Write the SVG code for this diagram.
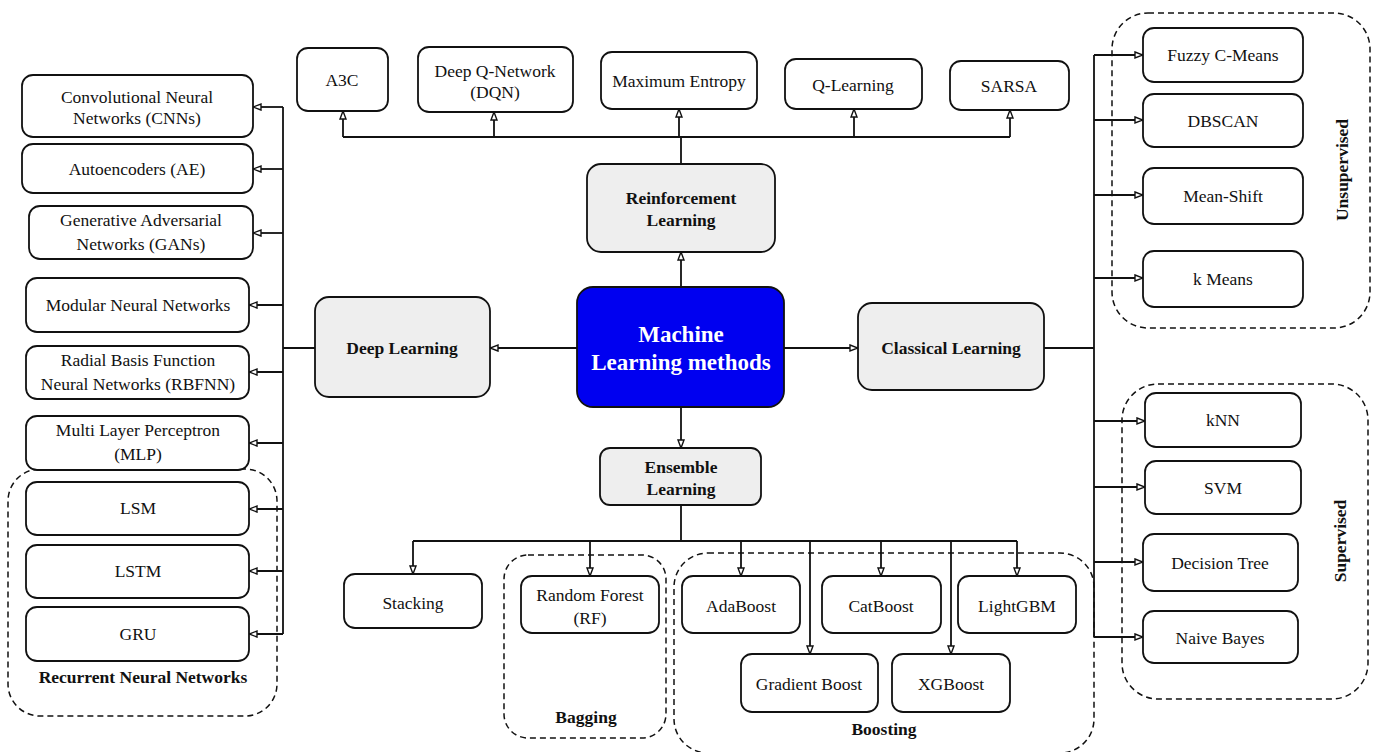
<svg xmlns="http://www.w3.org/2000/svg" width="1375" height="752" viewBox="0 0 1375 752">
<style>
.n{fill:#fff;stroke:#111;stroke-width:1.8}
.g{fill:#eeeeee;stroke:#111;stroke-width:1.8}
.c{fill:#0000f0;stroke:#111;stroke-width:1.8}
.d{fill:none;stroke:#111;stroke-width:1.5;stroke-dasharray:6 4}
.t{font-family:"Liberation Serif","Times New Roman",serif;font-size:17.5px;fill:#111;text-anchor:middle}
.b{font-family:"Liberation Serif","Times New Roman",serif;font-size:17.5px;font-weight:bold;fill:#111;text-anchor:middle}
.w{font-family:"Liberation Serif","Times New Roman",serif;font-size:23px;font-weight:bold;fill:#fff;text-anchor:middle}
.l{fill:none;stroke:#111;stroke-width:1.8}
.a{fill:none;stroke:#111;stroke-width:1.8;marker-end:url(#arr)}
</style>
<defs>
<marker id="arr" markerUnits="userSpaceOnUse" markerWidth="10" markerHeight="9" refX="9" refY="4" orient="auto">
<path d="M1,1 L9,4 L1,7 z" fill="#fff" stroke="#111" stroke-width="1.4"/>
</marker>
</defs>
<rect width="1375" height="752" fill="#fff"/>

<g id="groups">
<rect class="d" x="8" y="469" width="269" height="247" rx="32"/>
<text class="b" x="143" y="683">Recurrent Neural Networks</text>
<rect class="d" x="1112" y="13" width="258" height="315" rx="36"/>
<text class="b" transform="translate(1348,170) rotate(-90)">Unsupervised</text>
<rect class="d" x="1122" y="384" width="246" height="315" rx="36"/>
<text class="b" transform="translate(1346,541) rotate(-90)">Supervised</text>
<rect class="d" x="504" y="555" width="162" height="183" rx="24"/>
<text class="b" x="586" y="723">Bagging</text>
<rect class="d" x="674" y="553" width="420" height="200" rx="34"/>
<text class="b" x="884" y="735">Boosting</text>
</g>

<g id="connectors">
<path class="a" d="M577,348 H490"/>
<path class="a" d="M784,348 H858"/>
<path class="a" d="M681,287 V252"/>
<path class="a" d="M681,407 V448"/>
<path class="l" d="M681,164 V137 M343,137 H1010"/>
<path class="a" d="M343,137 V111"/>
<path class="a" d="M494,137 V112"/>
<path class="a" d="M679,137 V109"/>
<path class="a" d="M854,137 V109"/>
<path class="a" d="M1010,137 V110"/>
<path class="l" d="M315,348 H283 M283,107 V634"/>
<path class="a" d="M283,107 H253"/>
<path class="a" d="M283,169 H253"/>
<path class="a" d="M283,233 H253"/>
<path class="a" d="M283,305 H249"/>
<path class="a" d="M283,372 H249"/>
<path class="a" d="M283,443 H249"/>
<path class="a" d="M283,509 H249"/>
<path class="a" d="M283,571 H249"/>
<path class="a" d="M283,634 H249"/>
<path class="l" d="M1044,348 H1094 M1094,55 V637"/>
<path class="a" d="M1094,55 H1143"/>
<path class="a" d="M1094,120 H1143"/>
<path class="a" d="M1094,195 H1143"/>
<path class="a" d="M1094,278 H1143"/>
<path class="a" d="M1094,421 H1145"/>
<path class="a" d="M1094,487 H1145"/>
<path class="a" d="M1094,562 H1143"/>
<path class="a" d="M1094,637 H1143"/>
<path class="l" d="M681,505 V541 M413,541 H1017"/>
<path class="a" d="M413,541 V574"/>
<path class="a" d="M590,541 V576"/>
<path class="a" d="M741,541 V576"/>
<path class="a" d="M810,541 V654"/>
<path class="a" d="M881,541 V576"/>
<path class="a" d="M951,541 V654"/>
<path class="a" d="M1017,541 V576"/>
</g>

<g id="ml"><rect class="c" x="577" y="287" width="207" height="120" rx="16"/>
<text class="w" x="681" y="342">Machine</text><text class="w" x="681" y="370">Learning methods</text></g>
<g id="deep"><rect class="g" x="315" y="297" width="175" height="100" rx="14"/><text class="b" x="402" y="354">Deep Learning</text></g>
<g id="classical"><rect class="g" x="858" y="303" width="186" height="87" rx="14"/><text class="b" x="951" y="354">Classical Learning</text></g>
<g id="reinforcement"><rect class="g" x="587" y="164" width="188" height="88" rx="14"/><text class="b" x="681" y="204">Reinforcement</text><text class="b" x="681" y="226">Learning</text></g>
<g id="ensemble"><rect class="g" x="600" y="448" width="161" height="57" rx="10"/><text class="b" x="681" y="473">Ensemble</text><text class="b" x="681" y="495">Learning</text></g>

<g id="a3c"><rect class="n" x="297" y="48" width="91" height="63" rx="11"/><text class="t" x="342" y="86">A3C</text></g>
<g id="dqn"><rect class="n" x="418" y="47" width="155" height="65" rx="11"/><text class="t" x="495" y="77">Deep Q-Network</text><text class="t" x="495" y="98">(DQN)</text></g>
<g id="maxent"><rect class="n" x="601" y="52" width="156" height="57" rx="11"/><text class="t" x="679" y="87">Maximum Entropy</text></g>
<g id="qlearn"><rect class="n" x="785" y="59" width="137" height="50" rx="11"/><text class="t" x="853" y="91">Q-Learning</text></g>
<g id="sarsa"><rect class="n" x="950" y="61" width="119" height="49" rx="11"/><text class="t" x="1009" y="92">SARSA</text></g>

<g id="cnn"><rect class="n" x="22" y="75" width="231" height="62" rx="11"/><text class="t" x="137" y="103">Convolutional Neural</text><text class="t" x="137" y="124">Networks (CNNs)</text></g>
<g id="ae"><rect class="n" x="22" y="144" width="231" height="49" rx="11"/><text class="t" x="137" y="175">Autoencoders (AE)</text></g>
<g id="gan"><rect class="n" x="29" y="206" width="224" height="53" rx="11"/><text class="t" x="141" y="226">Generative Adversarial</text><text class="t" x="141" y="250">Networks (GANs)</text></g>
<g id="modular"><rect class="n" x="26" y="278" width="223" height="54" rx="11"/><text class="t" x="138" y="311">Modular Neural Networks</text></g>
<g id="rbfnn"><rect class="n" x="26" y="346" width="223" height="53" rx="11"/><text class="t" x="138" y="366">Radial Basis Function</text><text class="t" x="138" y="390">Neural Networks (RBFNN)</text></g>
<g id="mlp"><rect class="n" x="26" y="416" width="223" height="54" rx="11"/><text class="t" x="138" y="436">Multi Layer Perceptron</text><text class="t" x="138" y="460">(MLP)</text></g>
<g id="lsm"><rect class="n" x="26" y="482" width="223" height="53" rx="11"/><text class="t" x="138" y="514">LSM</text></g>
<g id="lstm"><rect class="n" x="26" y="545" width="223" height="53" rx="11"/><text class="t" x="138" y="577">LSTM</text></g>
<g id="gru"><rect class="n" x="26" y="607" width="223" height="54" rx="11"/><text class="t" x="138" y="640">GRU</text></g>

<g id="fcm"><rect class="n" x="1143" y="28" width="160" height="54" rx="11"/><text class="t" x="1223" y="61">Fuzzy C-Means</text></g>
<g id="dbscan"><rect class="n" x="1143" y="94" width="160" height="53" rx="11"/><text class="t" x="1223" y="127">DBSCAN</text></g>
<g id="meanshift"><rect class="n" x="1143" y="168" width="160" height="56" rx="11"/><text class="t" x="1223" y="202">Mean-Shift</text></g>
<g id="kmeans"><rect class="n" x="1143" y="251" width="160" height="56" rx="11"/><text class="t" x="1223" y="285">k Means</text></g>
<g id="knn"><rect class="n" x="1145" y="393" width="156" height="54" rx="11"/><text class="t" x="1223" y="426">kNN</text></g>
<g id="svm"><rect class="n" x="1145" y="461" width="156" height="53" rx="11"/><text class="t" x="1223" y="494">SVM</text></g>
<g id="dtree"><rect class="n" x="1143" y="534" width="155" height="57" rx="11"/><text class="t" x="1220" y="569">Decision Tree</text></g>
<g id="nbayes"><rect class="n" x="1143" y="611" width="155" height="52" rx="11"/><text class="t" x="1220" y="644">Naive Bayes</text></g>

<g id="stacking"><rect class="n" x="344" y="574" width="138" height="54" rx="11"/><text class="t" x="413" y="609">Stacking</text></g>
<g id="rf"><rect class="n" x="521" y="576" width="138" height="57" rx="11"/><text class="t" x="590" y="601">Random Forest</text><text class="t" x="590" y="624">(RF)</text></g>
<g id="adaboost"><rect class="n" x="682" y="576" width="118" height="57" rx="11"/><text class="t" x="741" y="612">AdaBoost</text></g>
<g id="catboost"><rect class="n" x="822" y="576" width="119" height="57" rx="11"/><text class="t" x="881" y="612">CatBoost</text></g>
<g id="lightgbm"><rect class="n" x="958" y="576" width="118" height="57" rx="11"/><text class="t" x="1017" y="612">LightGBM</text></g>
<g id="gradboost"><rect class="n" x="741" y="654" width="137" height="58" rx="11"/><text class="t" x="809" y="690">Gradient Boost</text></g>
<g id="xgboost"><rect class="n" x="892" y="654" width="118" height="58" rx="11"/><text class="t" x="951" y="690">XGBoost</text></g>
</svg>
